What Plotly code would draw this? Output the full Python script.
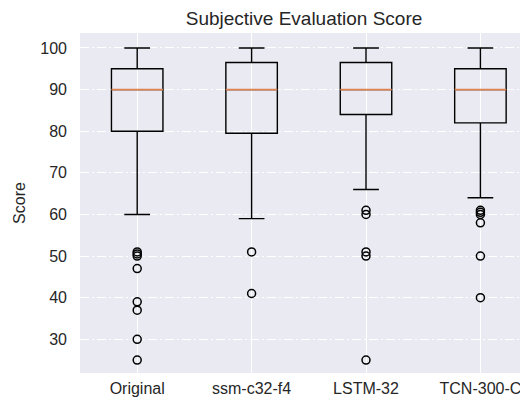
import plotly.graph_objects as go

categories = ["Original", "ssm-c32-f4", "LSTM-32", "TCN-300-C"]
positions = [1, 2, 3, 4]
q1 = [80, 79.5, 84, 82]
median = [90, 90, 90, 90]
q3 = [95, 96.5, 96.5, 95]
lower_whisker = [60, 59, 66, 64]
upper_whisker = [100, 100, 100, 100]
outliers = [
    [51, 50.5, 50, 47, 39, 37, 30, 25],
    [51, 41],
    [61, 60, 51, 50, 25],
    [61, 60.5, 60, 58, 50, 40],
]

BOX_W = 0.45
TEXT = "#262626"
FIG_W, FIG_H = 520, 396  # page body adds an 8px offset

fig = go.Figure()
fig.add_trace(go.Box(
    x=positions, q1=q1, median=median, q3=q3,
    lowerfence=lower_whisker, upperfence=upper_whisker,
    boxpoints=False, width=BOX_W, whiskerwidth=0.5,
    fillcolor="rgba(0,0,0,0)", line=dict(color="black", width=1.4),
    showlegend=False, hoverinfo="skip",
))

# median lines (orange) overlaid
mx, my = [], []
for p, m in zip(positions, median):
    mx += [p - BOX_W / 2, p + BOX_W / 2, None]
    my += [m, m, None]
fig.add_trace(go.Scatter(x=mx, y=my, mode="lines",
                         line=dict(color="#DD8452", width=1.6),
                         showlegend=False, hoverinfo="skip"))

ox, oy = [], []
for p, vals in zip(positions, outliers):
    ox += [p] * len(vals)
    oy += vals
fig.add_trace(go.Scatter(x=ox, y=oy, mode="markers",
                         marker=dict(symbol="circle-open", size=8,
                                     color="black", line=dict(width=1.5)),
                         showlegend=False, hoverinfo="skip"))

fig.update_layout(
    width=FIG_W, height=FIG_H,
    margin=dict(l=72, r=0, t=25, b=31),
    paper_bgcolor="white", plot_bgcolor="#EAEAF2",
    font=dict(family="Liberation Sans, Arial, sans-serif", size=16, color=TEXT),
    title=dict(text="Subjective Evaluation Score", x=0.5, xref="paper",
               xanchor="center", y=1 - 10 / FIG_H, yanchor="middle",
               font=dict(size=19, color=TEXT)),
)
fig.update_xaxes(
    range=[0.5, 4.416], tickmode="array", tickvals=positions, ticktext=categories,
    showgrid=True, gridcolor="white", gridwidth=1.4, zeroline=False,
    showline=False, ticks="", ticklabelstandoff=4, automargin=False,
)
fig.update_yaxes(
    range=[21.9, 103.6], tickmode="array", tickvals=[30, 40, 50, 60, 70, 80, 90, 100],
    showgrid=True, gridcolor="white", gridwidth=1.4, griddash="9px,3px,2px,3px",
    zeroline=False, showline=False, ticks="", ticklabelstandoff=12,
    title=dict(text="Score", standoff=10, font=dict(size=16, color=TEXT)),
    automargin=False,
)

fig.write_html("out.html")
